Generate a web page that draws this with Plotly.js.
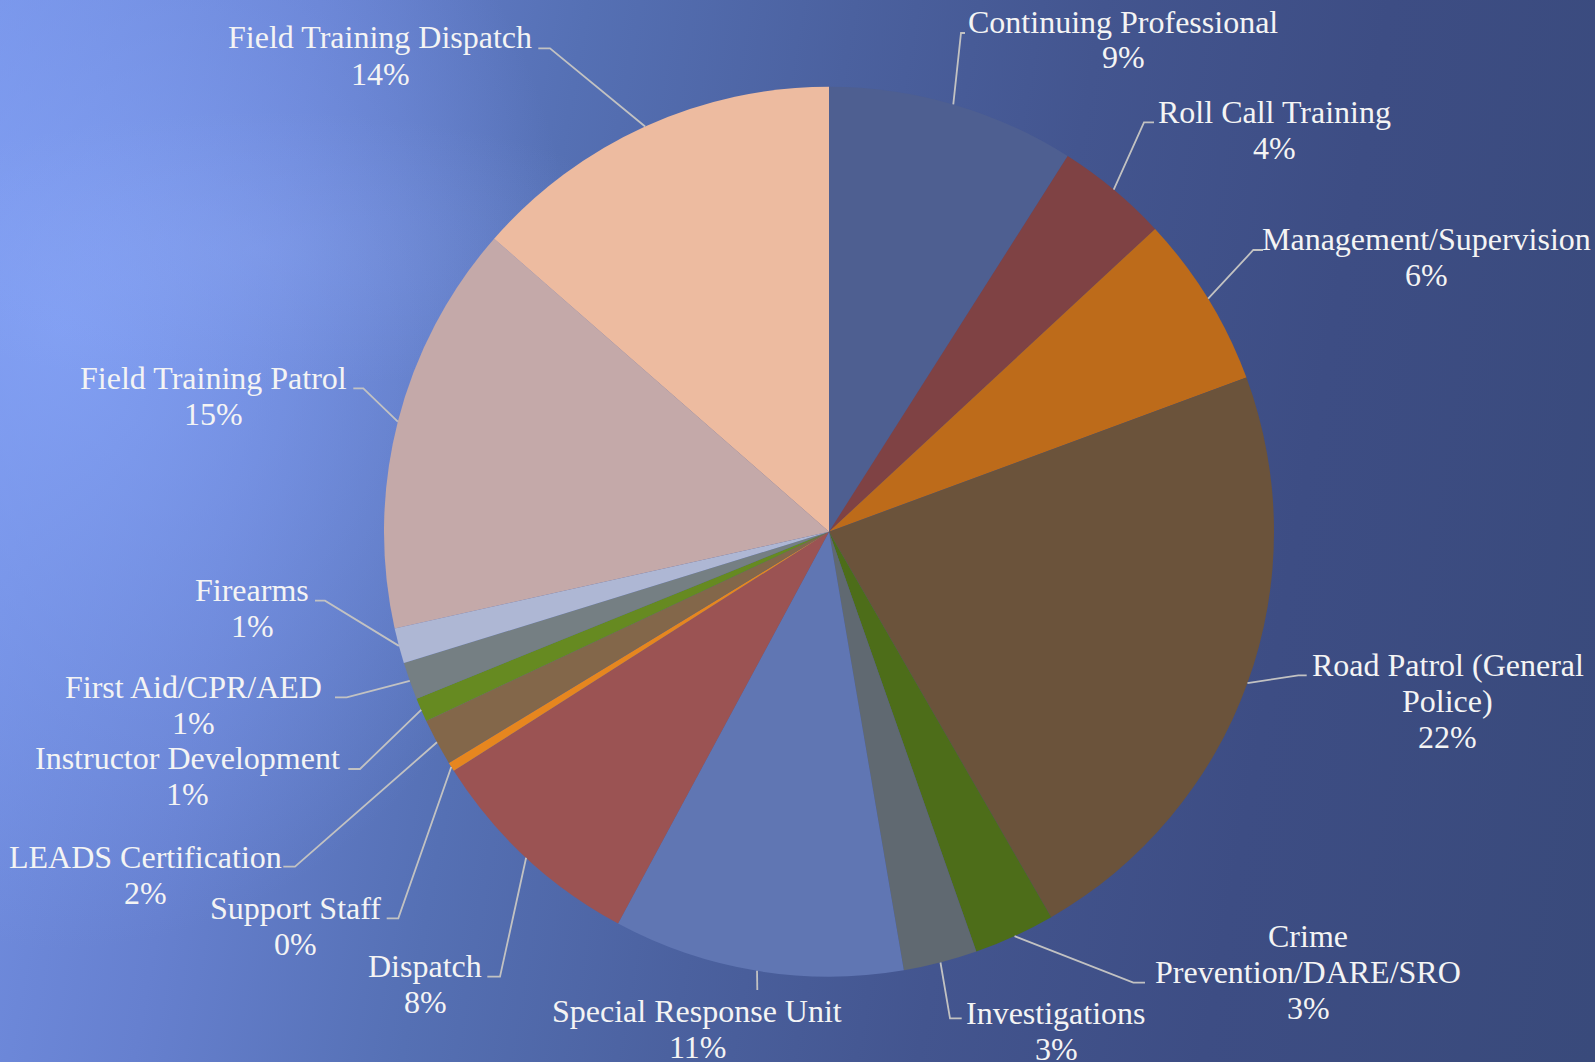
<!DOCTYPE html>
<html>
<head>
<meta charset="utf-8">
<script src="https://cdn.plot.ly/plotly-3.0.1.min.js"></script>
<style>
  html, body { margin: 0; padding: 0; overflow: hidden; }
  body {
    width: 1595px; height: 1062px;
    background:
      radial-gradient(ellipse 420px 140px at 260px 250px, rgba(160,185,255,0.18) 0%, rgba(160,185,255,0) 100%),
      radial-gradient(ellipse 520px 620px at 60px 330px, rgba(132,162,246,0.85) 0%, rgba(132,162,246,0) 100%),
      linear-gradient(100deg, #7592e6 0%, #6680cf 18%, #5570b4 33%, #4b619f 48%, #43558f 62%, #3d4d84 78%, #394a7b 100%);
  }
  #chart { width: 1595px; height: 1062px; }
</style>
</head>
<body>
<div id="chart"></div>
<script>
// ---- data ----
const categories = [
  'Continuing Professional', 'Roll Call Training', 'Management/Supervision',
  'Road Patrol (General Police)', 'Crime Prevention/DARE/SRO', 'Investigations',
  'Special Response Unit', 'Dispatch', 'Support Staff', 'LEADS Certification',
  'Instructor Development', 'First Aid/CPR/AED', 'Firearms',
  'Field Training Patrol', 'Field Training Dispatch'
];
const values = [9.01, 4.08, 6.28, 22.31, 2.95, 2.68, 10.55, 8.11, 0.33, 1.71, 0.87, 1.35, 1.28, 14.93, 13.56];
const colors = [
  '#4e5f91', '#7f4244', '#bd6b1a', '#6b533b', '#4d6d19', '#606971',
  '#6076b3', '#9b5353', '#e6861f', '#83674a', '#668a21', '#757f83',
  '#aeb7d4', '#c4a9a9', '#edbba0'
];

// ---- layout (pixel placement of labels / leader lines) ----
const W = 1595, H = 1062;
const CX = 829, CY = 531.7, R = 445;
const LINE = 36;
// [textCenterX, firstBaselineY, kneeX, kneeY, endX, endY, wordsOnFirstLine]
const labelLayout = [
  [1123, 32.3, 961, 33, 965, 33, 0],
  [1274, 122.5, 1144, 122.3, 1154, 122.3, 0],
  [1426, 250, 1253.3, 250, 1263, 250, 0],
  [1447.5, 676, 1298.3, 675.3, 1306.7, 675.3, 3],
  [1308, 946.7, 1133.3, 982.7, 1145, 982.7, 1],
  [1056, 1024, 950, 1018.3, 961.7, 1018.3, 0],
  [697, 1021.7, 757.3, 990, 757.3, 990, 0],
  [425, 976.7, 500, 976.7, 487.3, 976.7, 0],
  [295.2, 918.3, 398.3, 918.3, 386.7, 918.3, 0],
  [145, 867.3, 295, 866.7, 283.3, 866.7, 0],
  [187, 769, 360, 769, 348.3, 769, 0],
  [193.3, 697.3, 346.7, 697.3, 335, 697.3, 0],
  [252.2, 600.7, 325, 600.7, 315, 600.7, 0],
  [213.5, 388.3, 363.3, 388.3, 353.3, 388.3, 0],
  [380, 48.3, 550, 48.3, 538.3, 48.3, 0]
];

const FONT = {family: 'Liberation Serif, Times New Roman, serif', size: 32, color: '#f4f4f4'};
const px = x => x / W;
const py = y => 1 - y / H;

const total = values.reduce((a, b) => a + b, 0);
const annotations = [];
const shapes = [];
let cum = 0;
values.forEach((v, i) => {
  const mid = (cum + v / 2) / total * 2 * Math.PI;
  cum += v;
  const sx = CX + R * Math.sin(mid);
  const sy = CY - R * Math.cos(mid);
  const L = labelLayout[i];
  let lines;
  if (L[6] > 0) {
    const words = categories[i].split(' ');
    lines = [words.slice(0, L[6]).join(' '), words.slice(L[6]).join(' ')];
  } else {
    lines = [categories[i]];
  }
  lines.push(Math.round(v / total * 100) + '%');
  lines.forEach((t, k) => {
    annotations.push({
      xref: 'paper', yref: 'paper', x: px(L[0]), y: py(L[1] + k * LINE - 10.8),
      xanchor: 'center', yanchor: 'middle', showarrow: false,
      text: t, font: FONT
    });
  });
  shapes.push({
    type: 'path', xref: 'paper', yref: 'paper',
    path: `M ${px(sx)} ${py(sy)} L ${px(L[2])} ${py(L[3])} L ${px(L[4])} ${py(L[5])}`,
    line: {color: '#c2c2c2', width: 1.8}
  });
});

const trace = {
  type: 'pie',
  labels: categories,
  values: values,
  sort: false,
  direction: 'clockwise',
  rotation: 0,
  textinfo: 'none',
  hoverinfo: 'none',
  marker: {colors: colors, line: {width: 0}},
  domain: {x: [(CX - R) / W, (CX + R) / W], y: [1 - (CY + R) / H, 1 - (CY - R) / H]},
  showlegend: false
};

const layout = {
  width: W, height: H,
  margin: {l: 0, r: 0, t: 0, b: 0, pad: 0},
  paper_bgcolor: 'rgba(0,0,0,0)',
  plot_bgcolor: 'rgba(0,0,0,0)',
  showlegend: false,
  annotations: annotations,
  shapes: shapes
};

Plotly.newPlot('chart', [trace], layout, {displayModeBar: false, staticPlot: true});
</script>
</body>
</html>
